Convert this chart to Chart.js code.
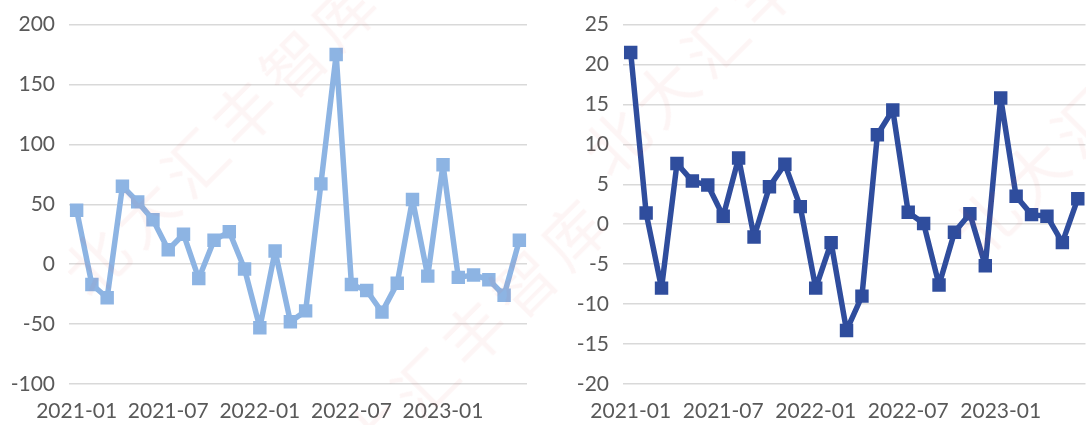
<!DOCTYPE html>
<html>
<head>
<meta charset="utf-8">
<script src="https://cdn.jsdelivr.net/npm/chart.js@4/dist/chart.umd.min.js"></script>
<style>
  html, body { margin: 0; padding: 0; background: #ffffff; }
  body { width: 1086px; height: 425px; position: relative; overflow: hidden; }
  canvas { position: absolute; top: 0; }
  .wm { position: absolute; font-family: "Noto Sans CJK SC", sans-serif; font-size: 62px;
        color: rgba(225, 60, 60, 0.05); white-space: nowrap; transform: rotate(-45deg);
        transform-origin: left top; pointer-events: none; z-index: 2; letter-spacing: 8px; }
</style>
</head>
<body>
<canvas id="left" width="543" height="425" style="left:0"></canvas>
<canvas id="right" width="552" height="425" style="left:543px"></canvas>
<div class="wm" style="left:40px; top:250px;">北大汇丰智库</div>
<div class="wm" style="left:270px; top:470px;">北大汇丰智库</div>
<div class="wm" style="left:560px; top:130px;">北大汇丰智库</div>
<div class="wm" style="left:930px; top:210px;">北大汇丰智库</div>
<script>
// ---- data ----
const months = [
  "2021-01","2021-02","2021-03","2021-04","2021-05","2021-06",
  "2021-07","2021-08","2021-09","2021-10","2021-11","2021-12",
  "2022-01","2022-02","2022-03","2022-04","2022-05","2022-06",
  "2022-07","2022-08","2022-09","2022-10","2022-11","2022-12",
  "2023-01","2023-02","2023-03","2023-04","2023-05","2023-06"
];
const leftSeries = [45, -17, -28, 65, 52, 37, 12, 25, -12, 20, 27, -4, -53, 11, -48, -39, 67, 175, -17, -22, -40, -16, 54, -10, 83, -11, -9, -13, -26, 20];
const rightSeries = [21.5, 1.4, -8, 7.6, 5.4, 4.9, 1.0, 8.3, -1.6, 4.7, 7.5, 2.2, -8, -2.3, -13.3, -9, 11.2, 14.3, 1.5, 0.1, -7.6, -1.0, 1.3, -5.2, 15.8, 3.5, 1.2, 1.0, -2.3, 3.2];
const leftTicks = [-100, -50, 0, 50, 100, 150, 200];
const rightTicks = [-20, -15, -10, -5, 0, 5, 10, 15, 20, 25];
const shownLabels = ["2021-01", "2021-07", "2022-01", "2022-07", "2023-01"];

const FONT = "Lato, 'Open Sans', sans-serif";
const TEXT = "#595959";
const GRID = "#d9d9d9";

function makeChart(id, data, ticks, color, yWidth, padRight) {
  const tickSet = ticks.slice();
  new Chart(document.getElementById(id), {
    type: 'line',
    data: {
      labels: months,
      datasets: [{
        data: data,
        borderColor: color,
        backgroundColor: color,
        borderWidth: 5.5,
        borderJoinStyle: 'round',
        borderCapStyle: 'round',
        pointStyle: 'rect',
        pointRadius: 9.5,
        pointBorderWidth: 0,
        pointBackgroundColor: color,
        tension: 0,
        fill: false
      }]
    },
    options: {
      responsive: false,
      animation: false,
      events: [],
      layout: { padding: { top: 23, right: padRight, bottom: 0, left: 0 } },
      plugins: { legend: { display: false }, tooltip: { enabled: false } },
      scales: {
        x: {
          type: 'category',
          offset: true,
          grid: { display: false, drawTicks: false },
          border: { display: false },
          ticks: {
            autoSkip: false,
            maxRotation: 0,
            minRotation: 0,
            padding: 17,
            color: TEXT,
            font: { family: FONT, size: 21, lineHeight: 1 },
            callback: function(v, i) {
              const l = months[i];
              return shownLabels.includes(l) ? l : '';
            }
          },
          afterFit: function(s) { s.height = 41; }
        },
        y: {
          min: ticks[0],
          max: ticks[ticks.length - 1],
          afterBuildTicks: function(s) { s.ticks = tickSet.map(v => ({ value: v })); },
          grid: { color: GRID, lineWidth: 1.5, drawTicks: false },
          border: { display: false },
          ticks: {
            padding: 14,
            color: TEXT,
            font: { family: FONT, size: 21, lineHeight: 1 }
          },
          afterFit: function(s) { s.width = yWidth; }
        }
      }
    }
  });
}

makeChart('left', leftSeries, leftTicks, '#8db4e3', 69, 16);
makeChart('right', rightSeries, rightTicks, '#2f4d9d', 80, 4);
</script>
</body>
</html>
